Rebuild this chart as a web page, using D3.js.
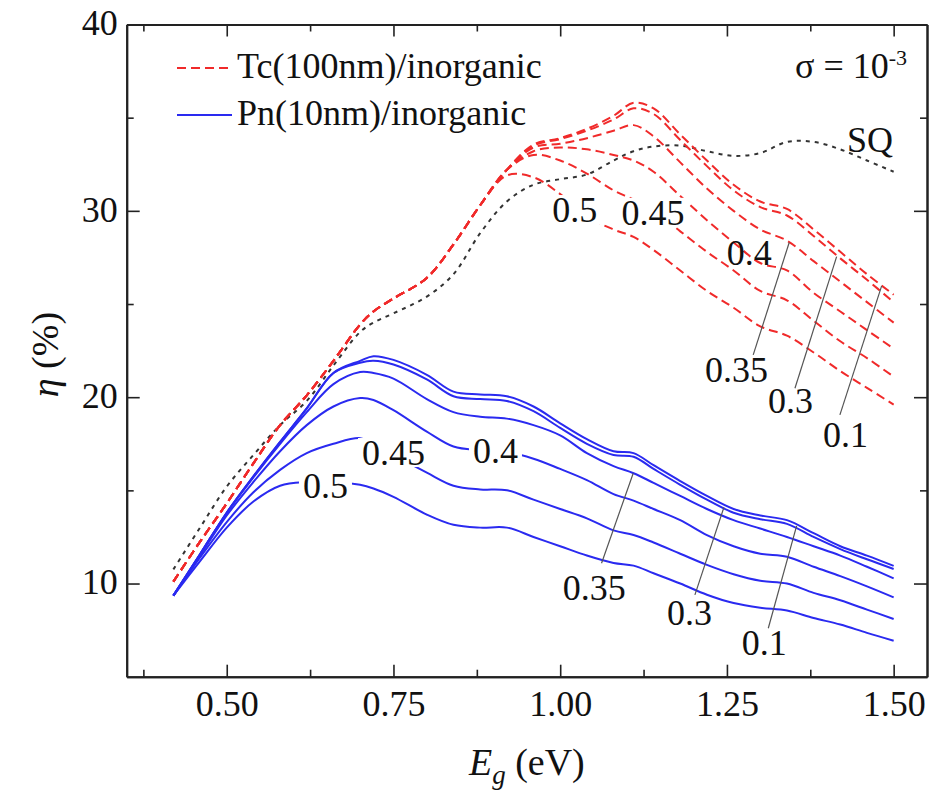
<!DOCTYPE html>
<html>
<head>
<meta charset="utf-8">
<script src="https://cdn.jsdelivr.net/npm/d3@7"></script>
<style>
  body { margin: 0; background: #fff; }
</style>
</head>
<body>
<svg id="chart" width="945" height="801"></svg>
<script>
// Band gap grid (eV) shared by every curve
const Eg = [0.42, 0.46, 0.50, 0.54, 0.58, 0.62, 0.66, 0.70, 0.72, 0.75, 0.80, 0.84, 0.88, 0.92,
            0.96, 1.00, 1.04, 1.08, 1.11, 1.14, 1.18, 1.22, 1.26, 1.30, 1.34, 1.38, 1.42, 1.46, 1.50];

// Shockley–Queisser limit (%)
const sqLimit = [10.76, 13.0, 15.2, 16.9, 18.5, 19.8, 21.7, 23.5, 24.0, 24.5, 25.4, 26.6, 28.8, 30.5,
                 31.4, 31.7, 31.95, 32.7, 33.2, 33.45, 33.5, 33.2, 32.95, 33.1, 33.7, 33.7, 33.3, 32.7, 32.1];

// Tc(100nm)/inorganic efficiency (%) for each sigma
const tc01  = [10.1, 12.25, 14.3, 16.45, 18.5, 20.1, 21.95, 23.9, 24.6, 25.3, 26.4, 28.2, 30.3, 32.2,
               33.55, 33.9, 34.4, 35.1, 35.8, 35.5, 34.1, 32.7, 31.4, 30.5, 30.1, 29.0, 27.8, 26.6, 25.5];
const tc03  = [10.1, 12.25, 14.3, 16.45, 18.5, 20.1, 21.95, 23.9, 24.6, 25.3, 26.4, 28.2, 30.3, 32.2,
               33.5, 33.85, 34.3, 34.9, 35.5, 35.2, 33.8, 32.4, 31.1, 30.2, 29.75, 28.65, 27.45, 26.3, 25.1];
const tc035 = [10.1, 12.25, 14.3, 16.45, 18.5, 20.1, 21.95, 23.9, 24.6, 25.3, 26.4, 28.2, 30.3, 32.2,
               33.4, 33.6, 33.9, 34.3, 34.6, 34.0, 32.6, 31.2, 30.0, 29.0, 28.4, 27.3, 26.2, 25.1, 24.0];
const tc04  = [10.1, 12.25, 14.3, 16.45, 18.5, 20.1, 21.95, 23.9, 24.6, 25.3, 26.4, 28.2, 30.3, 32.2,
               33.2, 33.4, 33.3, 33.0, 32.7, 32.1, 30.8, 29.5, 28.3, 27.2, 26.8, 25.6, 24.6, 23.6, 22.6];
const tc045 = [10.1, 12.25, 14.3, 16.45, 18.5, 20.1, 21.95, 23.9, 24.6, 25.3, 26.4, 28.2, 30.3, 32.2,
               33.0, 32.7, 32.0, 31.1, 30.6, 30.0, 28.9, 27.8, 26.8, 25.7, 25.2, 24.1, 23.0, 22.1, 21.1];
const tc05  = [10.1, 12.25, 14.3, 16.45, 18.5, 20.1, 21.95, 23.9, 24.6, 25.3, 26.4, 28.2, 30.3, 31.9,
               31.8, 30.9, 29.7, 29.0, 28.6, 27.9, 26.8, 25.7, 24.8, 23.8, 23.3, 22.4, 21.4, 20.5, 19.6];

// Pn(10nm)/inorganic efficiency (%) for each sigma
const pn01  = [9.35, 11.57, 13.8, 15.75, 17.6, 19.4, 21.3, 21.95, 22.2, 22.0, 21.2, 20.3, 20.15, 20.05,
               19.5, 18.6, 17.75, 17.1, 17.0, 16.35, 15.5, 14.7, 14.0, 13.65, 13.4, 12.7, 12.0, 11.5, 10.95];
const pn03  = [9.35, 11.57, 13.8, 15.75, 17.6, 19.4, 21.3, 21.85, 21.95, 21.75, 20.95, 20.05, 19.9, 19.8,
               19.25, 18.35, 17.5, 16.9, 16.8, 16.15, 15.3, 14.5, 13.8, 13.45, 13.2, 12.5, 11.85, 11.3, 10.78];
const pn035 = [9.35, 11.57, 13.8, 15.7, 17.5, 19.2, 20.7, 21.35, 21.3, 21.0, 19.9, 19.2, 18.95, 18.85,
               18.5, 17.95, 17.0, 16.3, 15.92, 15.4, 14.7, 14.0, 13.4, 12.95, 12.5, 12.0, 11.5, 10.9, 10.28];
const pn04  = [9.35, 11.5, 13.65, 15.45, 17.1, 18.5, 19.5, 19.95, 19.85, 19.3, 18.15, 17.35, 17.15, 17.05,
               16.7, 16.15, 15.55, 14.8, 14.45, 14.0, 13.4, 12.6, 12.0, 11.6, 11.44, 10.9, 10.4, 9.85, 9.26];
const pn045 = [9.35, 11.4, 13.3, 14.9, 16.1, 17.0, 17.5, 17.8, 17.5, 16.9, 15.95, 15.25, 15.05, 15.0,
               14.5, 14.0, 13.5, 12.85, 12.6, 12.2, 11.6, 11.0, 10.5, 10.15, 10.0, 9.5, 9.1, 8.6, 8.1];
const pn05  = [9.35, 11.2, 13.0, 14.4, 15.25, 15.45, 15.45, 15.3, 15.1, 14.65, 13.7, 13.15, 13.0, 13.0,
               12.5, 12.0, 11.5, 11.1, 10.96, 10.55, 10.0, 9.4, 8.95, 8.7, 8.55, 8.15, 7.8, 7.35, 6.93];

// Axis ticks
const xMajor = [0.50, 0.75, 1.00, 1.25, 1.50];
const xMinor = [0.375, 0.625, 0.875, 1.125, 1.375];
const yMajor = [10, 20, 30, 40];
const yMinor = [15, 25, 35];

// Curve labels: [text, Eg, eta] anchored at the text start / baseline
const tcInline  = [["0.5", 0.988, 29.4], ["0.45", 1.092, 29.25]];
const tcOutside = [["0.4", 1.2496, 27.1], ["0.35", 1.217, 20.82], ["0.3", 1.3115, 19.15], ["0.1", 1.394, 17.33]];
const pnInline  = [["0.5", 0.6143, 14.59], ["0.45", 0.7028, 16.36], ["0.4", 0.8692, 16.47]];
const pnOutside = [["0.35", 1.004, 9.12], ["0.3", 1.16, 7.78], ["0.1", 1.2724, 6.16]];

// Leader lines: [Eg1, eta1, Eg2, eta2]
const tcLeaders = [[1.2894, 22.27, 1.3434, 28.3], [1.352, 20.48, 1.4145, 27.54], [1.4194, 19.05, 1.482, 25.97]];
const pnLeaders = [[1.062, 11.09, 1.1095, 15.92], [1.202, 9.39, 1.2455, 14.09], [1.312, 7.6, 1.3545, 13.09]];

const FONT = '"Liberation Serif"';
const W = 945, H = 801;
const m = { left: 126.7, top: 24.5, right: 945 - 927, bottom: 801 - 676.7 };
const iw = W - m.left - m.right, ih = H - m.top - m.bottom;

const svg = d3.select("#chart");
const g = svg.append("g").attr("transform", `translate(${m.left},${m.top})`);

const x = d3.scaleLinear().domain([0.35, 1.55]).range([0, iw]);
const y = d3.scaleLinear().domain([5, 40]).range([ih, 0]);

const RED = "#f02a2a", BLUE = "#2a2af0", GREY = "#333", INK = "#111";

const line = d3.line()
  .x((d, i) => x(Eg[i]))
  .y(d => y(d))
  .curve(d3.curveCatmullRom.alpha(0.5));

const plot = g.append("g");

// Shockley–Queisser curve
plot.append("path").datum(sqLimit)
  .attr("d", line).attr("fill", "none")
  .attr("stroke", GREY).attr("stroke-width", 2).attr("stroke-dasharray", "4,5");

// Tc curves
[tc01, tc03, tc035, tc04, tc045, tc05].forEach(s => {
  plot.append("path").datum(s)
    .attr("d", line).attr("fill", "none")
    .attr("stroke", RED).attr("stroke-width", 2).attr("stroke-dasharray", "9,5");
});

// Pn curves
[pn01, pn03, pn035, pn04, pn045, pn05].forEach(s => {
  plot.append("path").datum(s)
    .attr("d", line).attr("fill", "none")
    .attr("stroke", BLUE).attr("stroke-width", 2);
});

// Leader lines
[...tcLeaders, ...pnLeaders].forEach(l => {
  plot.append("line")
    .attr("x1", x(l[0])).attr("y1", y(l[1]))
    .attr("x2", x(l[2])).attr("y2", y(l[3]))
    .attr("stroke", "#555").attr("stroke-width", 1.2);
});

// Curve labels; inline ones knock out the curve underneath
function addLabel(d, knockout) {
  const t = plot.append("text")
    .attr("x", x(d[1])).attr("y", y(d[2]))
    .attr("font-family", FONT).attr("font-size", 36).attr("fill", INK).text(d[0]);
  if (knockout) {
    const b = t.node().getBBox();
    plot.insert("rect", () => t.node())
      .attr("x", b.x - 4).attr("y", y(d[2]) - 27)
      .attr("width", b.width + 8).attr("height", 29)
      .attr("fill", "#fff");
  }
}
tcInline.forEach(d => addLabel(d, true));
pnInline.forEach(d => addLabel(d, true));
tcOutside.forEach(d => addLabel(d, false));
pnOutside.forEach(d => addLabel(d, false));

// Axes: ticks point inward on all four sides
const AX = "#222";
function styleAxis(sel) {
  sel.attr("font-family", FONT);
  sel.select(".domain").attr("stroke", AX).attr("stroke-width", 2);
  sel.selectAll(".tick line").attr("stroke", AX).attr("stroke-width", 1.6);
  sel.selectAll("text").attr("font-family", FONT);
}
const gxB = g.append("g").attr("transform", `translate(0,${ih})`)
  .call(d3.axisBottom(x).tickValues(xMajor).tickSize(-12).tickSizeOuter(0).tickFormat(d3.format(".2f")));
gxB.selectAll("text").attr("y", 39).attr("dy", 0).attr("font-size", 36).attr("fill", INK);
styleAxis(gxB);
const gxBm = g.append("g").attr("transform", `translate(0,${ih})`)
  .call(d3.axisBottom(x).tickValues(xMinor).tickSize(-7).tickSizeOuter(0).tickFormat(""));
styleAxis(gxBm);

const gxT = g.append("g")
  .call(d3.axisTop(x).tickValues(xMajor).tickSize(-12).tickSizeOuter(0).tickFormat(""));
styleAxis(gxT);
const gxTm = g.append("g")
  .call(d3.axisTop(x).tickValues(xMinor).tickSize(-7).tickSizeOuter(0).tickFormat(""));
styleAxis(gxTm);

const gyL = g.append("g")
  .call(d3.axisLeft(y).tickValues(yMajor).tickSize(-13).tickSizeOuter(0).tickFormat(d3.format("d")));
gyL.selectAll("text").attr("x", -9).attr("dy", "0.29em").attr("font-size", 36).attr("fill", INK);
styleAxis(gyL);
const gyLm = g.append("g")
  .call(d3.axisLeft(y).tickValues(yMinor).tickSize(-7).tickSizeOuter(0).tickFormat(""));
styleAxis(gyLm);

const gyR = g.append("g").attr("transform", `translate(${iw},0)`)
  .call(d3.axisRight(y).tickValues(yMajor).tickSize(-13).tickSizeOuter(0).tickFormat(""));
styleAxis(gyR);
const gyRm = g.append("g").attr("transform", `translate(${iw},0)`)
  .call(d3.axisRight(y).tickValues(yMinor).tickSize(-7).tickSizeOuter(0).tickFormat(""));
styleAxis(gyRm);

// Axis titles
const xt = svg.append("text").attr("x", m.left + iw / 2).attr("y", 775)
  .attr("text-anchor", "middle").attr("font-family", FONT).attr("font-size", 38).attr("fill", INK);
xt.append("tspan").attr("font-style", "italic").text("E");
xt.append("tspan").attr("font-style", "italic").attr("font-size", 27).attr("dy", 9).text("g");
xt.append("tspan").attr("dy", -9).text(" (eV)");

const yt = svg.append("text").attr("transform", `translate(58,${m.top + ih / 2 + 4}) rotate(-90)`)
  .attr("text-anchor", "middle").attr("font-family", FONT).attr("font-size", 38).attr("fill", INK);
yt.append("tspan").attr("font-style", "italic").text("η");
yt.append("tspan").text(" (%)");

// Legend
const legend = [["Tc(100nm)/inorganic", RED, "9,5"], ["Pn(10nm)/inorganic", BLUE, null]];
legend.forEach((d, i) => {
  const yy = 68 + i * 47;
  svg.append("line").attr("x1", 177).attr("x2", 232).attr("y1", yy).attr("y2", yy)
    .attr("stroke", d[1]).attr("stroke-width", 2)
    .attr("stroke-dasharray", d[2]);
  svg.append("text").attr("x", 237).attr("y", yy + 10)
    .attr("font-family", FONT).attr("font-size", 36).attr("fill", INK).text(d[0]);
});

// Sigma note and SQ tag
const st = svg.append("text").attr("x", 795).attr("y", 78)
  .attr("font-family", FONT).attr("font-size", 36).attr("fill", INK);
st.append("tspan").text("σ = 10");
st.append("tspan").attr("font-size", 22).attr("dy", -13).text("-3");
svg.append("text").attr("x", 847).attr("y", 152)
  .attr("font-family", FONT).attr("font-size", 36).attr("fill", INK).text("SQ");
</script>
</body>
</html>
